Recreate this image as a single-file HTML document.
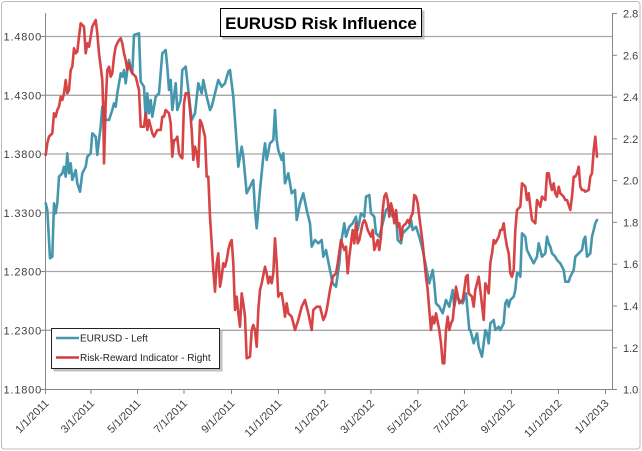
<!DOCTYPE html>
<html><head><meta charset="utf-8"><style>
html,body{margin:0;padding:0;background:#fff;}
svg{display:block;}
text{font-family:"Liberation Sans",sans-serif;}
</style></head><body>
<svg width="642" height="451" viewBox="0 0 642 451" xmlns="http://www.w3.org/2000/svg">
<rect x="0" y="0" width="642" height="451" fill="#fff"/>
<rect x="1.5" y="1.5" width="638.5" height="447.5" rx="3" fill="#fff" stroke="#bdbdbd" stroke-width="1"/>
<!-- gridlines -->
<g stroke="#a6a6a6" stroke-width="1.3">
<line x1="45" y1="36.5" x2="613" y2="36.5"/>
<line x1="45" y1="95.3" x2="613" y2="95.3"/>
<line x1="45" y1="154" x2="613" y2="154"/>
<line x1="45" y1="212.8" x2="613" y2="212.8"/>
<line x1="45" y1="271.5" x2="613" y2="271.5"/>
<line x1="45" y1="330.3" x2="613" y2="330.3"/>
</g>
<!-- axes -->
<g stroke="#868686" stroke-width="1">
<line x1="45.5" y1="13" x2="45.5" y2="389"/>
<line x1="612.5" y1="13" x2="612.5" y2="389"/>
<line x1="45" y1="389.5" x2="613" y2="389.5"/>
<!-- left ticks -->
<line x1="41" y1="36.5" x2="45" y2="36.5"/>
<line x1="41" y1="95.3" x2="45" y2="95.3"/>
<line x1="41" y1="154" x2="45" y2="154"/>
<line x1="41" y1="212.8" x2="45" y2="212.8"/>
<line x1="41" y1="271.5" x2="45" y2="271.5"/>
<line x1="41" y1="330.3" x2="45" y2="330.3"/>
<line x1="41" y1="389.5" x2="45" y2="389.5"/>
<!-- right ticks -->
<line x1="613" y1="13.5" x2="617" y2="13.5"/>
<line x1="613" y1="55.3" x2="617" y2="55.3"/>
<line x1="613" y1="97.1" x2="617" y2="97.1"/>
<line x1="613" y1="138.8" x2="617" y2="138.8"/>
<line x1="613" y1="180.6" x2="617" y2="180.6"/>
<line x1="613" y1="222.4" x2="617" y2="222.4"/>
<line x1="613" y1="264.2" x2="617" y2="264.2"/>
<line x1="613" y1="306" x2="617" y2="306"/>
<line x1="613" y1="347.8" x2="617" y2="347.8"/>
<line x1="613" y1="389.5" x2="617" y2="389.5"/>
<!-- bottom ticks -->
<line x1="45.5" y1="389" x2="45.5" y2="394"/>
<line x1="91" y1="389" x2="91" y2="394"/>
<line x1="137.5" y1="389" x2="137.5" y2="394"/>
<line x1="184" y1="389" x2="184" y2="394"/>
<line x1="231.5" y1="389" x2="231.5" y2="394"/>
<line x1="278.5" y1="389" x2="278.5" y2="394"/>
<line x1="325" y1="389" x2="325" y2="394"/>
<line x1="371" y1="389" x2="371" y2="394"/>
<line x1="418" y1="389" x2="418" y2="394"/>
<line x1="464.5" y1="389" x2="464.5" y2="394"/>
<line x1="511.5" y1="389" x2="511.5" y2="394"/>
<line x1="558.5" y1="389" x2="558.5" y2="394"/>
<line x1="605.5" y1="389" x2="605.5" y2="394"/>
</g>
<!-- left labels -->
<g font-size="11" fill="#404040" text-anchor="end" letter-spacing="0.8">
<text x="42" y="40.5">1.4800</text>
<text x="42" y="99.3">1.4300</text>
<text x="42" y="158">1.3800</text>
<text x="42" y="216.8">1.3300</text>
<text x="42" y="275.5">1.2800</text>
<text x="42" y="334.3">1.2300</text>
<text x="42" y="393.5">1.1800</text>
</g>
<!-- right labels -->
<g font-size="11" fill="#404040">
<text x="623" y="17.5">2.8</text>
<text x="623" y="59.3">2.6</text>
<text x="623" y="101.1">2.4</text>
<text x="623" y="142.8">2.2</text>
<text x="623" y="184.6">2.0</text>
<text x="623" y="226.4">1.8</text>
<text x="623" y="268.2">1.6</text>
<text x="623" y="310">1.4</text>
<text x="623" y="351.8">1.2</text>
<text x="623" y="393.5">1.0</text>
</g>
<!-- date labels -->
<g font-size="11" fill="#404040" text-anchor="end">
<text transform="translate(49.5,404) rotate(-45)">1/1/2011</text>
<text transform="translate(95,404) rotate(-45)">3/1/2011</text>
<text transform="translate(141.5,404) rotate(-45)">5/1/2011</text>
<text transform="translate(188,404) rotate(-45)">7/1/2011</text>
<text transform="translate(235.5,404) rotate(-45)">9/1/2011</text>
<text transform="translate(282.5,404) rotate(-45)">11/1/2011</text>
<text transform="translate(329,404) rotate(-45)">1/1/2012</text>
<text transform="translate(375,404) rotate(-45)">3/1/2012</text>
<text transform="translate(422,404) rotate(-45)">5/1/2012</text>
<text transform="translate(468.5,404) rotate(-45)">7/1/2012</text>
<text transform="translate(515.5,404) rotate(-45)">9/1/2012</text>
<text transform="translate(562.5,404) rotate(-45)">11/1/2012</text>
<text transform="translate(609.5,404) rotate(-45)">1/1/2013</text>
</g>
<!-- EURUSD teal -->
<polyline fill="none" stroke="#4597ad" stroke-width="2.6" stroke-linejoin="round" stroke-linecap="round" points="
45.7,203.3 47.3,210 50,258.3 52.3,256.7 54,203.3 55.7,213.3 57.3,203.3 59,176.7 62.3,173.3 64,166.7 65.7,176.7 67.3,153.3 69,173.3 70.7,163.3 72.3,180 75.7,170 77.3,183.3 80,191.7 82.3,173.3 85.7,166.7 87.3,156.7 90.7,153.3 92.3,133.3 95.7,136.7 97.3,155 99,140 100.7,126.7 102.3,106.7 104,110 105.7,120 109,120 112.3,110 114,103.3 115.7,106.7 117.3,93.3 119,83.3 120.7,73.3 122.3,76.7 124,70 125.7,83.3 127.3,70 129,60 130.7,68.3 132.3,73.3 134,35 139,33.3 140.7,81.7 144,86.7 145.7,120 147.3,93.3 149,113.3 150.7,100 152.3,116.7 155.7,96.7 159,93.3 162.3,53.3 165.7,50 167.3,66.7 169,90 170.7,80 172.3,110 175.7,83.3 177.3,110 180.7,100 182.3,70 185.7,66.7
188.3,90 191.7,120 195,113.3 198.3,83.3 201.7,93.3 203.3,80 206.7,96.7 210,110 211.7,106.7 215,93.3 218.3,80 221.7,86.7 225,83.3 228.3,71.7 230,70 233.3,96.7 235,120 238.3,166.7 241.7,146.7 243.3,156.7 246.7,193.3 250,186.7 253.3,180 255,210 256.7,228.3 260,190 263.3,156.7 265,143.3 266.7,160 270,143.3 273.3,140 275,110 276.7,140 278.3,150 281.7,160 283.3,153.3 285,183.3 288.3,173.3 291.7,193.3 295,190 296.7,220 300,203.3 303.3,193.3 306.7,210 310,223.3 311.7,246.7 315,240 318.3,243.3 321.7,240 323.3,256.7 326,250
329.3,266.7 332.7,283.3 336,286.7 339.3,263.3 341,243.3 344.3,223.3 346,236.7 349.3,226.7 352.7,223.3 356,216.7 357.7,230 361,213.3 364.3,216.7 366,196.7 369.3,195 371,213.3 374.3,216.7 376,233.3 379.3,236.7 382.7,223.3 386,210 389.3,206.7 392.7,216.7 396,213.3 397.7,240 401,243.3 402.7,233.3 406,230 409.3,226.7 411,220 412.7,230 416,226.7 419.3,236.7 422.7,250 426,266.7 429.3,283.3 432.7,270 434.3,283.3 436,303.3 439.3,306.7 441,310 442.7,313.3 446,300 449.3,306.7 452.7,290 454.3,306.7 456,296.7 459.3,300 462.7,303.3 466,293.3 469.3,330
470.3,330 473.7,343.3 477,333.3 478.7,346.7 482,356.7 483.7,343.3 485.3,330 487,333.3 488.7,343.3 490.3,323.3 493.7,320 495.3,330 498.7,326.7 500.3,330 503.7,323.3 505.3,303.3 507,300 508.7,306.7 510.3,300 513.7,296.7 515.3,290 517,273.3 518.7,273.3 520.3,276.7 522,233.3 525.3,236.7 527,250 530.3,256.7 533.7,263.3 537,256.7 538.7,243.3 540.3,250 542,256.7 545.3,253.3 547,236.7 548.7,243.3 550.3,246.7 552,253.3 555.3,256.7 557,260 560.3,263.3 563.7,270 565.3,281.7 568.7,281.7 570.3,276.7 573.7,270 575.3,256.7 578.7,253.3 582,250 583.7,240 585.3,236.7 587,256.7 590.3,253.3 592,236.7 593.7,230 595.3,223.3 597,220"/>
<!-- Risk-Reward red -->
<polyline fill="none" stroke="#d43a3c" stroke-width="2.6" stroke-linejoin="round" stroke-linecap="round" stroke-opacity="0.95" points="
45.7,155 47.3,143.3 49,136.7 52.3,133.3 54,113.3 55.7,116.7 57.3,110 59,106.7 60.7,96.7 62.3,100 64,93.3 65.7,80 67.3,93.3 69,90 70.7,70 72.3,66.7 74,48.3 75.7,53.3 77.3,51.7 79,36.7 80.7,23.3 84,26.7 85.7,53.3 87.3,43.3 89,46.7 90.7,36.7 92.3,26.7 94,23.3 95.7,20 97.3,33.3 99,53.3 100.7,66.7 102.3,80 103.3,110 104,163.3 105.7,103.3 107.3,70 109,66.7 110.7,76.7 112.3,73.3 114,56.7 115.7,46.7 117.3,43.3 119,40 120.7,38.3 122.3,43.3 124,53.3 125.7,60 127.3,70 129,63.3 130.7,70 132.3,73.3 135.7,76.7 139,90 140.7,126.7 144,126.7 145.7,113.3 147.3,130 149,120 152.3,133.3 154,136.7 157.3,130 160.7,130 162.3,116.7 164,116.7 165.7,110 169,113.3 170.7,123.3 172.3,156.7 174,140 175.7,140 177.3,136.7 179,153.3 180.7,156.7 182.3,158.3 184,103.3 185.7,93.3
188.3,93.3 190,110 191.7,130 193.3,160 195,146.7 196.7,153.3 198.3,166.7 200,120 201.7,123.3 205,136.7 206.7,176.7 208.3,176.7 210,216.7 211.7,243.3 213.3,270 215,291.7 216.7,263.3 218.3,253.3 220,286.7 221.7,276.7 223.3,263.3 225,266.7 226.7,260 228.3,250 230,243.3 231.7,240 233.3,263.3 235,310 236.7,296.7 238.3,313.3 240,326.7 241.7,293.3 243.3,303.3 245,316.7 246.7,358.3 250,356.7 251.7,330 253.3,325 255,330 256.7,346.7 258.3,310 260,290 261.7,283.3 265,266.7 266.7,273.3 268.3,283.3 270,276.7 271.7,283.3 273.3,273.3 275,238.3 276.7,263.3 278.3,296.7 280,293.3 281.7,293.3 283.3,303.3 285,316.7 286.7,303.3 288.3,313.3 291.7,316.7 295,330 298.3,320 301.7,306.7 305,300 308.3,313.3 311.7,330 313.3,310 316.7,306.7 320,306.7 323.3,320 325,316.7 326.7,310
330,290 332.7,276.7 336,273.3 337.7,263.3 341,240 344.3,250 346,246.7 347.7,273.3 349.3,256.7 352.7,230 354.3,243.3 356,223.3 357.7,243.3 359.3,240 362.7,223.3 364.3,220 366,223.3 367.7,230 369.3,233.3 371,236.7 372.7,230 374.3,250 377.7,240 379.3,250 381,236.7 382.7,210 384.3,196.7 386,193.3 387.7,200 389.3,216.7 391,203.3 392.7,210 394.3,223.3 396,210 397.7,226.7 399.3,223.3 401,240 402.7,226.7 406,223.3 407.7,220 409.3,223.3 411,216.7 412.7,213.3 414.3,195 416,196.7 417.7,203.3 419.3,216.7 421,230 422.7,243.3 424.3,260 426,276.7 427.7,290 429.3,310 431,330 432.7,316.7 434.3,323.3 436,313.3 439.3,330 441,343.3 442.7,363.3 444.3,363.3 446,330 447.7,316.7 449.3,330 451,323.3 452.7,320 456,286.7 459.3,303.3 462.7,300 464.3,290 466,276.7 467.7,275
468.7,293.3 472,296.7 473.7,306.7 475.3,290 478.7,276.7 480.3,290 483.7,320 485.3,283.3 487,286.7 488.7,293.3 490.3,263.3 492,253.3 493.7,240 495.3,243.3 497,240 498.7,236.7 500.3,230 502,230 503.7,223.3 505.3,236.7 507,246.7 508.7,253.3 510.3,273.3 512,276.7 513.7,270 515.3,230 517,210 520.3,206.7 522,183.3 525.3,186.7 527,200 528.7,193.3 530.3,206.7 532,220 535.3,223.3 537,200 538.7,203.3 540.3,206.7 542,196.7 545.3,200 547,173.3 548.7,173.3 550.3,183.3 552,190 553.7,183.3 555.3,193.3 557,196.7 558.7,186.7 560.3,193.3 563.7,196.7 565.3,200 567,200 570.3,210 572,196.7 573.7,176.7 575.3,176.7 577,173.3 578.7,166.7 580.3,186.7 582,190 583.7,190 585.3,191.7 588.7,190 590.3,176.7 592,173.3 593.7,150 595.3,136.7 597,156.7"/>
<!-- title box -->
<rect x="222.5" y="10.5" width="202" height="29" fill="#9a9a9a" opacity="0.6"/>
<rect x="220.5" y="8.5" width="201" height="28" fill="#fff" stroke="#000" stroke-width="1"/>
<text x="321" y="29" font-size="17" font-weight="bold" text-anchor="middle" fill="#000">EURUSD Risk Influence</text>
<!-- legend -->
<rect x="53.5" y="330.5" width="169" height="41" fill="#9a9a9a" opacity="0.6"/>
<rect x="51.5" y="328.5" width="168" height="40" fill="#fff" stroke="#222" stroke-width="1"/>
<line x1="56" y1="338" x2="79" y2="338" stroke="#4597ad" stroke-width="2.6"/>
<line x1="56" y1="357.5" x2="79" y2="357.5" stroke="#d43a3c" stroke-width="2.6"/>
<g font-size="10" fill="#222">
<text x="80" y="341.5">EURUSD - Left</text>
<text x="80" y="361">Risk-Reward Indicator - Right</text>
</g>
</svg>
</body></html>
